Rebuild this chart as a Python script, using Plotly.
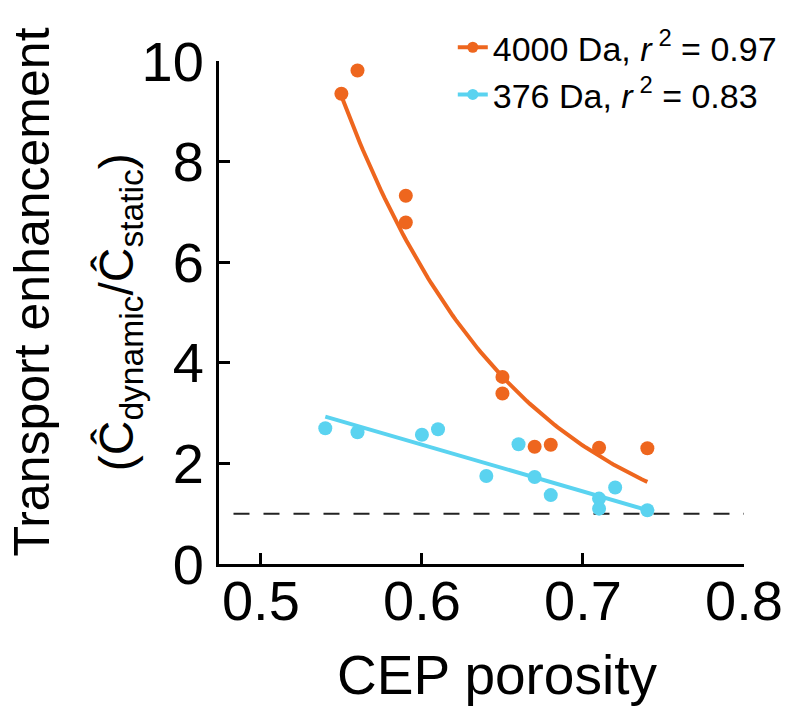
import numpy as np
import plotly.graph_objects as go

# ---- data ----
x_4000 = [0.55, 0.56, 0.59, 0.59, 0.65, 0.65, 0.67, 0.68, 0.71, 0.74]
y_4000 = [9.35, 9.81, 7.32, 6.79, 3.72, 3.39, 2.33, 2.37, 2.31, 2.30]

x_376 = [0.54, 0.56, 0.60, 0.61, 0.64, 0.66, 0.67, 0.68, 0.71, 0.71, 0.72, 0.74]
y_376 = [2.70, 2.62, 2.57, 2.68, 1.75, 2.38, 1.73, 1.37, 1.30, 1.10, 1.52, 1.07]

# fit parameters
fit4000_a, fit4000_b = 1434.0, -9.16      # y = a * exp(b x)
fit4000_range = [0.55, 0.74]
fit376_m, fit376_c = -9.3, 7.952          # y = m x + c
fit376_range = [0.54, 0.74]

ref_x = [0.483, 0.8]
ref_y = [1, 1]

labels = ["4000 Da, <i>r</i>\u2009<sup>2</sup> = 0.97", "376 Da, <i>r</i>\u2009<sup>2</sup> = 0.83"]
x_ticks = [0.5, 0.6, 0.7, 0.8]
y_ticks = [0, 2, 4, 6, 8, 10]
x_title = "CEP porosity"
y_title_1 = "Transport enhancement"
y_title_2 = "(Ĉ<sub>dynamic</sub>/Ĉ<sub>static</sub>)"

ORANGE = "#EE661E"
CYAN = "#5AD3F0"
FONT = "Liberation Sans, Arial, sans-serif"

xf1 = np.linspace(fit4000_range[0], fit4000_range[1], 100)
yf1 = fit4000_a * np.exp(fit4000_b * xf1)
xf2 = np.array(fit376_range)
yf2 = fit376_m * xf2 + fit376_c

fig = go.Figure()
fig.add_trace(go.Scatter(x=ref_x, y=ref_y, mode="lines",
                         line=dict(color="#222222", width=2, dash="16px,14px"),
                         showlegend=False, hoverinfo="skip"))
fig.add_trace(go.Scatter(x=xf1, y=yf1, mode="lines", line=dict(color=ORANGE, width=4),
                         showlegend=False))
fig.add_trace(go.Scatter(x=xf2, y=yf2, mode="lines", line=dict(color=CYAN, width=4),
                         showlegend=False))
fig.add_trace(go.Scatter(x=x_4000, y=y_4000, mode="markers",
                         marker=dict(color=ORANGE, size=14), showlegend=False))
fig.add_trace(go.Scatter(x=x_376, y=y_376, mode="markers",
                         marker=dict(color=CYAN, size=14), showlegend=False))
# legend entries
fig.add_trace(go.Scatter(x=[None], y=[None], mode="lines+markers", name=labels[0],
                         line=dict(color=ORANGE, width=4), marker=dict(color=ORANGE, size=11)))
fig.add_trace(go.Scatter(x=[None], y=[None], mode="lines+markers", name=labels[1],
                         line=dict(color=CYAN, width=4), marker=dict(color=CYAN, size=11)))

axis_common = dict(showline=True, linecolor="black", linewidth=3, ticks="inside",
                   ticklen=11, tickwidth=3, tickcolor="black", showgrid=False,
                   zeroline=False, automargin=False,
                   tickfont=dict(size=56, color="black", family=FONT))

fig.update_xaxes(range=[0.474, 0.8], tickvals=x_ticks, ticktext=[str(v) for v in x_ticks],
                 ticklabelstandoff=-14, **axis_common)
fig.update_yaxes(range=[0, 10], tickvals=y_ticks, ticklabelstandoff=1, **axis_common)

fig.add_annotation(text=x_title, xref="paper", yref="paper", x=0.53, y=-0.22,
                   xanchor="center", yanchor="middle", showarrow=False,
                   font=dict(size=55, color="black", family=FONT))
fig.add_annotation(text=y_title_1, textangle=-90, xref="paper", yref="paper",
                   x=-0.356, y=0.54, xanchor="center", yanchor="middle", showarrow=False,
                   font=dict(size=50, color="black", family=FONT))
fig.add_annotation(text=y_title_2, textangle=-90,
                   xref="paper", yref="paper", x=-0.189, y=0.5, xanchor="center",
                   yanchor="middle", showarrow=False,
                   font=dict(size=48, color="black", family=FONT))

fig.update_layout(width=792, height=710, plot_bgcolor="white", paper_bgcolor="white",
                  margin=dict(l=211, r=56, t=53, b=154, autoexpand=False),
                  font=dict(family=FONT, color="black"),
                  legend=dict(x=0.5616, y=0.985, xref="container", yref="container",
                              xanchor="left", yanchor="top",
                              bgcolor="rgba(0,0,0,0)", font=dict(size=34, color="black"),
                              tracegroupgap=0))

fig.write_html("out.html")
